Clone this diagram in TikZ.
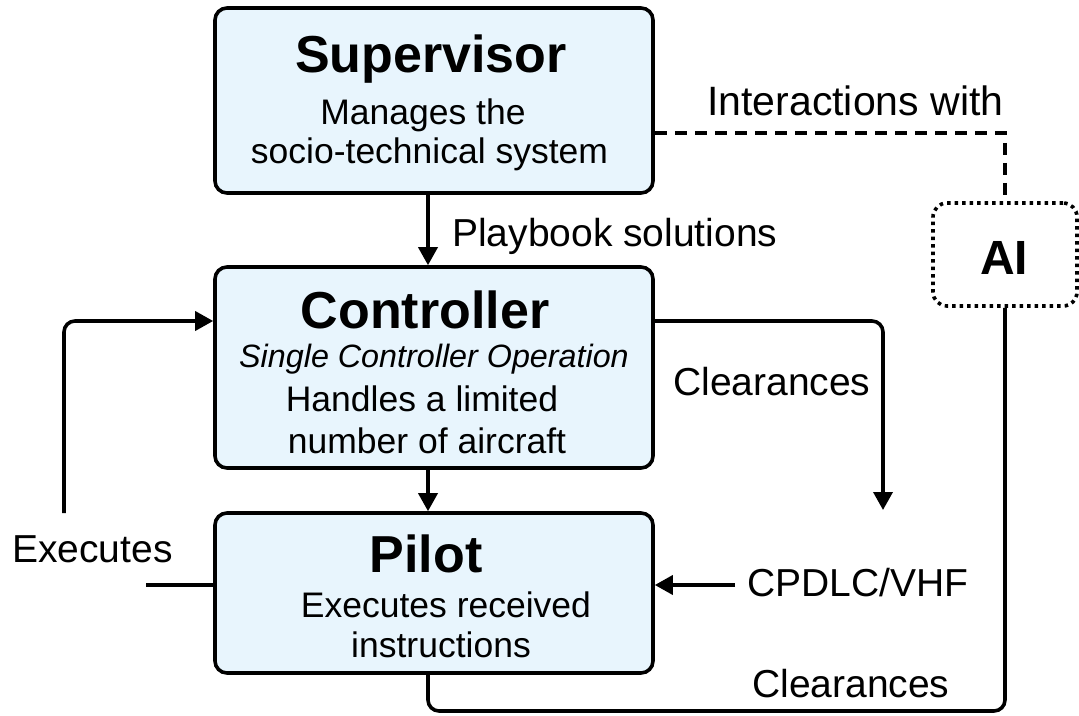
\documentclass[tikz,border=0pt]{standalone}
\usepackage{fontspec}
\setmainfont{Liberation Sans}
\usetikzlibrary{arrows.meta,calc}
\definecolor{boxfill}{RGB}{232,245,253}
\tikzset{
 box/.style={draw, line width=3.6pt, fill=boxfill, rounded corners=12pt, minimum width=438pt, inner sep=0pt},
 conn/.style={line width=3.6pt, rounded corners=11pt},
 arr/.style={conn, -{Triangle[length=18pt,width=19pt]}},
 title/.style={anchor=base, inner sep=0pt, font=\fontsize{52}{60}\selectfont\bfseries},
 body/.style={anchor=base, inner sep=0pt, font=\fontsize{35.5}{42}\selectfont},
 lbl/.style={anchor=base west, inner sep=0pt, font=\fontsize{39}{46}\selectfont},
}
\begin{document}
\begin{tikzpicture}[x=1pt,y=-1pt]
\useasboundingbox (0,0) rectangle (1079,715);
\node[box, minimum height=185pt] (sup) at (434,100.5) {};
\node[box, minimum height=201pt] (ctl) at (434,367.5) {};
\node[box, minimum height=160pt] (pil) at (434,593) {};
\node[draw, line width=3.6pt, dash pattern=on 3.5pt off 4pt, rounded corners=14pt, minimum width=144pt, minimum height=103pt, inner sep=0pt] (ai) at (1005,254.5) {};

\node[title] (supt) at (431,72) {Supervisor};
\node[body] (supl1) at (423,124) {Manages the};
\node[body] (supl2) at (429.5,163) {socio-technical system};
\node[title] (ctlt) at (425,328) {Controller};
\node[body, font=\fontsize{32.3}{40}\selectfont\itshape] (ctli) at (434,367) {Single Controller Operation};
\node[body] (ctl1) at (422,411) {Handles a limited};
\node[body] (ctl2) at (427,453) {number of aircraft};
\node[title] (pilt) at (426,572) {Pilot};
\node[body] (pil1) at (446,617) {Executes received};
\node[body] (pil2) at (441,657) {instructions};
\node[title, font=\fontsize{48}{56}\selectfont\bfseries] (ait) at (1004,274) {AI};

\node[lbl] (lplay) at (452,246) {Playbook solutions};
\node[lbl, font=\fontsize{41}{48}\selectfont] (linter) at (707,115) {Interactions with};
\node[lbl] (lclr1) at (673,395) {Clearances};
\node[lbl] (lcpd) at (747,596) {CPDLC/VHF};
\node[lbl] (lclr2) at (752,697) {Clearances};
\node[lbl] (lexe) at (12,562) {Executes};

\coordinate (vx) at (428,0);
\coordinate (clrend) at (883,510);
\coordinate (cpdtail) at (735,585);
\coordinate (botrow) at (0,711);
\coordinate (exetail) at (64,513);
\coordinate (exein) at (146,585);
\coordinate (dashrow) at (0,133);
\coordinate (row321) at (0,321);

\draw[arr] (sup.south -| vx) -- (ctl.north -| vx);
\draw[arr] (ctl.south -| vx) -- (pil.north -| vx);
\draw[line width=3.6pt, dash pattern=on 12pt off 8pt] (sup.east |- dashrow) -| (ai.north);
\draw[arr] (ctl.east |- row321) -| (clrend);
\draw[arr] (cpdtail) -- (pil.east |- cpdtail);
\draw[conn] (pil.south -| vx) -- (vx |- botrow) -- (ai.south |- botrow) -- (ai.south);
\draw[arr] (exetail) |- (ctl.west |- row321);
\draw[conn] (exein) -- (pil.west |- exein);
\end{tikzpicture}
\end{document}
